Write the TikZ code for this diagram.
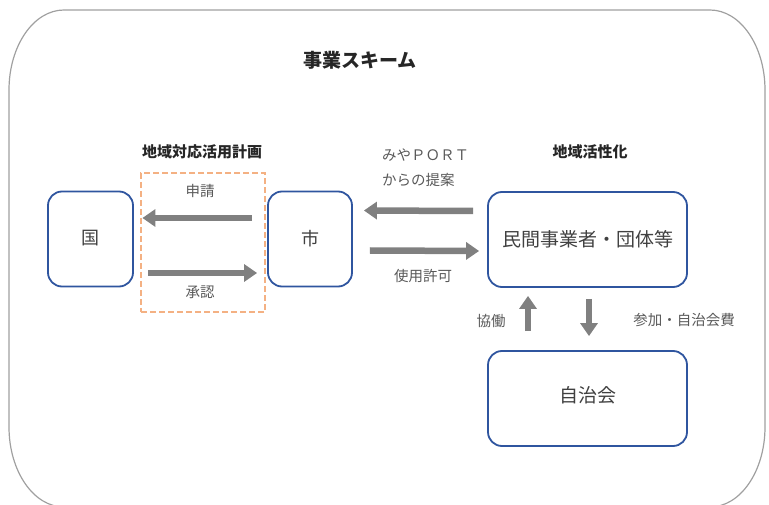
\documentclass[tikz,border=0pt]{standalone}
\usepackage{fontspec}
\setmainfont{Noto Sans CJK JP}
\usetikzlibrary{arrows.meta,calc}
\definecolor{boxblue}{HTML}{2F559F}
\definecolor{arrgray}{HTML}{808080}
\definecolor{lblgray}{HTML}{595959}
\definecolor{boxtext}{HTML}{404040}
\definecolor{dashorange}{HTML}{F4B183}
\definecolor{framegray}{HTML}{A0A0A0}
\begin{document}
\begin{tikzpicture}[x=1pt,y=-1pt,
  frameline/.style={draw=framegray, line width=1.2pt},
  entity/.style={draw=boxblue, line width=1.8pt, rounded corners=14pt, minimum height=95pt, inner sep=0pt, text=boxtext, font=\fontsize{19}{19}\selectfont},
  plan/.style={draw=dashorange, line width=2.5pt, dash pattern=on 6pt off 3pt, minimum width=124pt, minimum height=139pt, inner sep=0pt},
  lbl/.style={text=lblgray, font=\fontsize{14.5}{25}\selectfont, inner sep=0pt},
  heading/.style={text=black!85, font=\fontsize{15}{15}\selectfont\bfseries, inner sep=0pt},
  ttl/.style={text=black!85, font=\fontsize{19}{19}\selectfont\bfseries, inner sep=0pt},
  flow/.style={draw=arrgray, line width=6.5pt, -{Triangle[length=13pt,width=17pt]}}
]
\useasboundingbox (0,0) rectangle (769,505);
\draw[frameline] (64,10) -- (710,10)
  arc[start angle=90, end angle=0, x radius=55pt, y radius=80pt] -- (765,427)
  arc[start angle=0, end angle=-90, x radius=55pt, y radius=80pt] -- (64,507)
  arc[start angle=-90, end angle=-180, x radius=55pt, y radius=80pt] -- (9,90)
  arc[start angle=180, end angle=90, x radius=55pt, y radius=80pt] -- cycle;
\node[ttl] (title) at (360,60) {事業スキーム};
\node[heading] (planhead) at (202,152) {地域対応活用計画};
\node[heading] (acthead) at (590,152) {地域活性化};
\node[plan] (plan) at (203,242.5) {};
\node[entity, minimum width=85pt, font=\fontsize{18}{18}\selectfont] (kuni) at (90.5,239) {\raisebox{3pt}{国}};
\node[entity, minimum width=84pt, font=\fontsize{18}{18}\selectfont] (shi) at (310,239) {\raisebox{2pt}{市}};
\node[entity, minimum width=199pt] (minkan) at (587.5,239.5) {\raisebox{2pt}{民間事業者・団体等}};
\node[entity, minimum width=199pt] (jichi) at (587.5,398.5) {\raisebox{8pt}{自治会}};
\draw[flow] ([xshift=-15pt,yshift=21pt]shi.west) -- ([xshift=8.5pt,yshift=21pt]kuni.east);
\draw[flow] ([xshift=14pt,yshift=-34pt]kuni.east) -- ([xshift=-10pt,yshift=-34pt]shi.west);
\draw[flow] ([xshift=-14pt,yshift=28.5pt]minkan.west) -- ([xshift=11pt,yshift=28.5pt]shi.east);
\draw[flow] ([xshift=17pt,yshift=-11.5pt]shi.east) -- ([xshift=-8pt,yshift=-11.5pt]minkan.west);
\draw[flow] ([xshift=-59.5pt,yshift=19pt]jichi.north) -- ([xshift=-59.5pt,yshift=-8pt]minkan.south);
\draw[flow] ([xshift=1.5pt,yshift=-11pt]minkan.south) -- ([xshift=1.5pt,yshift=14pt]jichi.north);
\node[lbl] (shinsei) at (200,191) {申請};
\node[lbl] (shonin) at (200,292) {承認};
\node[lbl, align=left, anchor=north west] (teian) at (382,149) {みやＰＯＲＴ\\からの提案};
\node[lbl] (kyoka) at (423,276) {使用許可};
\node[lbl] (kyodo) at (491,321) {協働};
\node[lbl] (sanka) at (684,320) {参加・自治会費};
\end{tikzpicture}
\end{document}
